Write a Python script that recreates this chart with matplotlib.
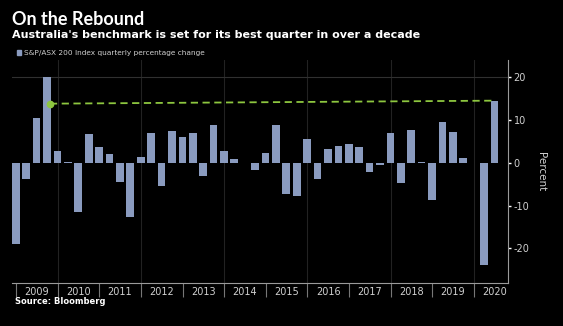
import matplotlib
matplotlib.use("Agg")
import matplotlib.pyplot as plt
import matplotlib.dates as mdates
import pandas as pd
import numpy as np

# ---- data ----
quarter_ends = pd.date_range("2008-12-31", periods=47, freq="QE")
pct_change = [-18.9, -3.7, 10.4, 20.0, 2.7, 0.2, -11.6, 6.7, 3.6, 2.0,
              -4.5, -12.7, 1.3, 6.9, -5.4, 7.3, 6.0, 6.9, -3.2, 8.75,
              2.7, 0.9, 0.05, -1.7, 2.3, 8.9, -7.2, -7.8, 5.6, -3.8,
              3.1, 3.9, 4.4, 3.6, -2.2, -0.5, 6.9, -4.8, 7.7, 0.2,
              -8.8, 9.5, 7.1, 1.1, 0.0, -23.8, 14.5]
years = list(range(2009, 2021))
y_ticks = [-20, -10, 0, 10, 20]
title = "On the Rebound"
subtitle = "Australia's benchmark is set for its best quarter in over a decade"
legend_label = "S&P/ASX 200 Index quarterly percentage change"
source = "Source: Bloomberg"
# annotation: dashed line from the 2009 peak to the latest quarter
arrow_start = (pd.Timestamp("2009-10-25"), 13.8)
arrow_end = (quarter_ends[-1], pct_change[-1])

BG = "black"
BAR = "#8a9bbf"
GREEN = "#8dc63f"
TXT = "#d0d0d0"
AX = "#9a9a9a"

fig = plt.figure(figsize=(5.63, 3.26), dpi=100, facecolor=BG)
ax = fig.add_axes([11.9 / 563, 43 / 326, (508 - 11.9) / 563, 223 / 326])
ax.set_facecolor(BG)

ax.bar(quarter_ends, pct_change, width=67, color=BAR, zorder=3)

ax.set_xlim(pd.Timestamp("2008-11-25"), pd.Timestamp("2020-10-27"))
ax.set_ylim(-28.1, 24.0)

# grid
for yr in years[1::2]:
    ax.axvline(pd.Timestamp(f"{yr}-01-01"), color="#222222", lw=0.8, zorder=1)
ax.axhline(20, color="#303030", lw=0.8, zorder=1)

# x axis
ax.xaxis.set_major_locator(mdates.YearLocator())
ax.xaxis.set_major_formatter(plt.NullFormatter())
ax.xaxis.set_minor_locator(mdates.MonthLocator(bymonth=7, bymonthday=1))
ax.xaxis.set_minor_formatter(mdates.DateFormatter("%Y"))
ax.tick_params(axis="x", which="major", length=10, width=0.8, color="#777777")
ax.tick_params(axis="x", which="minor", length=0, labelsize=7, labelcolor=TXT, pad=3)

# y axis on right
ax.yaxis.tick_right()
ax.yaxis.set_label_position("right")
ax.set_yticks(y_ticks)
ax.set_yticklabels([str(v) for v in y_ticks])
ax.tick_params(axis="y", length=2, width=1, color="white", labelsize=7, labelcolor=TXT, pad=2)
ax.set_ylabel("Percent", color=TXT, fontsize=7.5, rotation=270, labelpad=12)

for s in ["top", "left"]:
    ax.spines[s].set_visible(False)
for s in ["bottom", "right"]:
    ax.spines[s].set_color(AX)
    ax.spines[s].set_linewidth(0.8)

# annotation line
ax.plot([arrow_start[0], arrow_end[0]], [arrow_start[1], arrow_end[1]],
        color=GREEN, lw=1.3, ls=(0, (4, 2.5)), zorder=4)
ax.plot([arrow_start[0]], [arrow_start[1]], marker="o", ms=4.5, color=GREEN, zorder=5)

# texts
fig.text(12.5 / 563, 1 - 11 / 326, title, color="white", fontsize=13, fontweight="bold",
         family=["Lato", "DejaVu Sans"], va="top", ha="left")
fig.text(12.5 / 563, 1 - 30.5 / 326, subtitle, color="white", fontsize=8.0, fontweight="bold",
         va="top", ha="left")
fig.patches.append(plt.Rectangle((16.5 / 563, 1 - 54.5 / 326), 4 / 563, 4.5 / 326,
                                 transform=fig.transFigure, color=BAR))
fig.text(23.5 / 563, 1 - 52.5 / 326, legend_label, color=TXT, fontsize=5.3,
         va="center", ha="left")
fig.text(15 / 563, 1 - 297 / 326, source, color="white", fontsize=6, fontweight="bold",
         va="top", ha="left")

fig.savefig("out.png", dpi=100, facecolor=BG)
